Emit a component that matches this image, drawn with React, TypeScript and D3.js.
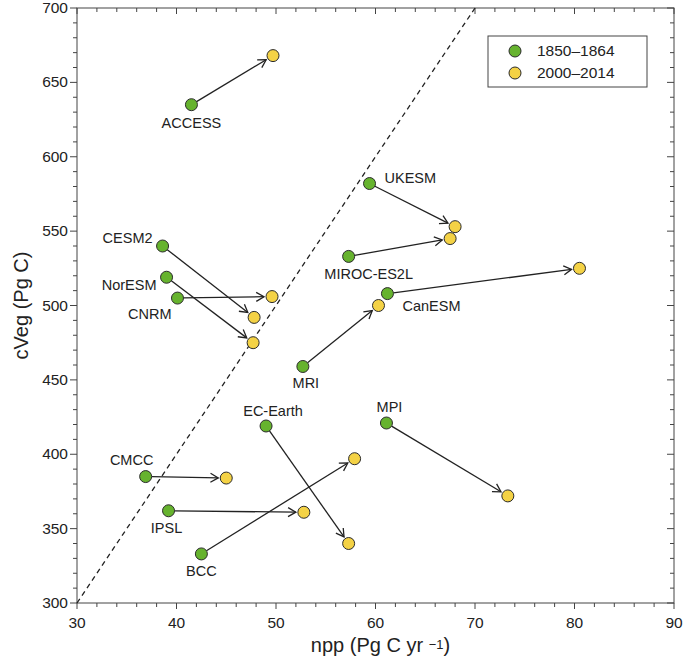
import React from 'react';
import * as d3 from 'd3';

// ---- data ----
const models = ['ACCESS', 'UKESM', 'MIROC-ES2L', 'CanESM', 'MRI', 'CESM2', 'NorESM', 'CNRM', 'EC-Earth', 'CMCC', 'IPSL', 'BCC', 'MPI'];
const npp1850 = [41.5, 59.4, 57.3, 61.2, 52.7, 38.6, 39.0, 40.1, 49.0, 36.9, 39.2, 42.5, 61.1];
const cveg1850 = [635, 582, 533, 508, 459, 540, 519, 505, 419, 385, 362, 333, 421];
const npp2000 = [49.7, 68.0, 67.5, 80.5, 60.3, 47.8, 47.7, 49.6, 57.3, 45.0, 52.8, 57.9, 73.3];
const cveg2000 = [668, 553, 545, 525, 500, 492, 475, 506, 340, 384, 361, 397, 372];
const xTicks = [30, 40, 50, 60, 70, 80, 90];
const yTicks = [300, 350, 400, 450, 500, 550, 600, 650, 700];
const legendLabels = ['1850–1864', '2000–2014'];
const refRatio = 10; // dashed line cVeg = 10 * npp
const xTitle = 'npp (Pg C yr ';
const xTitleSup = '−1)';
const yTitle = 'cVeg (Pg C)';

// ---- layout (label offsets relative to the 1850 point) ----
const labelLayout: Record<string, [number, number, string]> = {
  'ACCESS': [0, 18, 'middle'],
  'UKESM': [15, -6, 'start'],
  'MIROC-ES2L': [20, 18, 'middle'],
  'CanESM': [15, 12, 'start'],
  'MRI': [3, 16, 'middle'],
  'CESM2': [-10, -8, 'end'],
  'NorESM': [-10, 8, 'end'],
  'CNRM': [-6, 16, 'end'],
  'EC-Earth': [7, -15, 'middle'],
  'CMCC': [-14, -17, 'middle'],
  'IPSL': [-2, 17, 'middle'],
  'BCC': [0, 17, 'middle'],
  'MPI': [3, -16, 'middle'],
};

const W = 685, H = 664;
const L = 77, R = 674, T = 8, B = 603;
const GREEN = '#66b32e';
const YELLOW = '#f4d245';
const STROKE = '#2b2b2b';
const FONT = '"Liberation Sans", Arial, Helvetica, sans-serif';
const RAD = 6;

export default function App() {
  const x = d3.scaleLinear().domain([30, 90]).range([L, R]);
  const y = d3.scaleLinear().domain([300, 700]).range([B, T]);
  const xMinor = d3.range(30, 90.001, 2);
  const yMinor = d3.range(300, 700.001, 10);

  const arrows = models.map((m, i) => {
    const x1 = x(npp1850[i]), y1 = y(cveg1850[i]);
    const x2 = x(npp2000[i]), y2 = y(cveg2000[i]);
    const dx = x2 - x1, dy = y2 - y1;
    const len = Math.hypot(dx, dy);
    const ux = dx / len, uy = dy / len;
    const sx = x1 + ux * RAD, sy = y1 + uy * RAD;
    const ex = x2 - ux * (RAD + 2), ey = y2 - uy * (RAD + 2);
    const ah = 9, ang = (30 * Math.PI) / 180;
    const ca = Math.cos(ang), sa = Math.sin(ang);
    const h1x = ex - ah * (ux * ca - uy * sa), h1y = ey - ah * (uy * ca + ux * sa);
    const h2x = ex - ah * (ux * ca + uy * sa), h2y = ey - ah * (uy * ca - ux * sa);
    return { m, sx, sy, ex, ey, h1x, h1y, h2x, h2y };
  });

  const refX0 = 30, refX1 = 700 / refRatio;

  return (
    <svg width={W} height={H} style={{ position: 'absolute', left: 0, top: 0, display: 'block', background: '#fff' }} fontFamily={FONT}>
      <rect x={0} y={0} width={W} height={H} fill="#fff" />
      {/* frame */}
      <rect x={L} y={T} width={R - L} height={B - T} fill="none" stroke="#444" strokeWidth={1} />
      {/* x ticks */}
      {xMinor.map((v) => {
        const major = xTicks.includes(Math.round(v));
        return (
          <g key={'xt' + v}>
            <line x1={x(v)} x2={x(v)} y1={B} y2={B + (major ? 6 : 4)} stroke="#444" />
            <line x1={x(v)} x2={x(v)} y1={T} y2={T + (major ? 6 : 4)} stroke="#444" />
          </g>
        );
      })}
      {xTicks.map((v) => (
        <text key={'xl' + v} x={x(v)} y={628} textAnchor="middle" fontSize={15.5} fill="#222">{v}</text>
      ))}
      {/* y ticks */}
      {yMinor.map((v) => {
        const major = yTicks.includes(Math.round(v));
        return (
          <g key={'yt' + v}>
            <line x1={L - (major ? 7 : 4)} x2={L} y1={y(v)} y2={y(v)} stroke="#444" />
            <line x1={R - (major ? 7 : 4)} x2={R} y1={y(v)} y2={y(v)} stroke="#444" />
          </g>
        );
      })}
      {yTicks.map((v) => (
        <text key={'yl' + v} x={68} y={y(v) + 5} textAnchor="end" fontSize={15.5} fill="#222">{v}</text>
      ))}
      {/* axis titles */}
      <text x={(L + R) / 2 + 5} y={652} textAnchor="middle" fontSize={20} fill="#222">
        {xTitle}
        <tspan fontSize={13} dy={-3}>{xTitleSup.slice(0, 2)}</tspan>
        <tspan dy={3}>{xTitleSup.slice(2)}</tspan>
      </text>
      <text transform={`translate(28,${(T + B) / 2}) rotate(-90)`} textAnchor="middle" fontSize={20} fill="#222">{yTitle}</text>
      {/* reference dashed line */}
      <line x1={x(refX0)} y1={y(refX0 * refRatio)} x2={x(refX1)} y2={y(refX1 * refRatio)} stroke="#222" strokeWidth={1.3} strokeDasharray="5,4" />
      {/* arrows */}
      {arrows.map((a) => (
        <g key={'a' + a.m} stroke="#222" strokeWidth={1.3} fill="none">
          <line x1={a.sx} y1={a.sy} x2={a.ex} y2={a.ey} />
          <polyline points={`${a.h1x},${a.h1y} ${a.ex},${a.ey} ${a.h2x},${a.h2y}`} />
        </g>
      ))}
      {/* points */}
      {models.map((m, i) => (
        <circle key={'p2' + m} cx={x(npp2000[i])} cy={y(cveg2000[i])} r={RAD} fill={YELLOW} stroke={STROKE} strokeWidth={1} />
      ))}
      {models.map((m, i) => (
        <circle key={'p1' + m} cx={x(npp1850[i])} cy={y(cveg1850[i])} r={RAD} fill={GREEN} stroke={STROKE} strokeWidth={1} />
      ))}
      {/* labels */}
      {models.map((m, i) => {
        const [dx, dy, anchor] = labelLayout[m];
        return (
          <text key={'lb' + m} x={x(npp1850[i]) + dx} y={y(cveg1850[i]) + dy} dy="0.35em" textAnchor={anchor as any} fontSize={14.5} fill="#222">{m}</text>
        );
      })}
      {/* legend */}
      <rect x={488} y={36} width={159} height={51} fill="#fff" stroke="#444" strokeWidth={1} />
      {legendLabels.map((lab, i) => (
        <g key={'lg' + lab}>
          <circle cx={515} cy={51 + i * 22} r={RAD} fill={i === 0 ? GREEN : YELLOW} stroke={STROKE} strokeWidth={1} />
          <text x={537} y={51 + i * 22} dy="0.35em" fontSize={15.5} fill="#222">{lab}</text>
        </g>
      ))}
    </svg>
  );
}
